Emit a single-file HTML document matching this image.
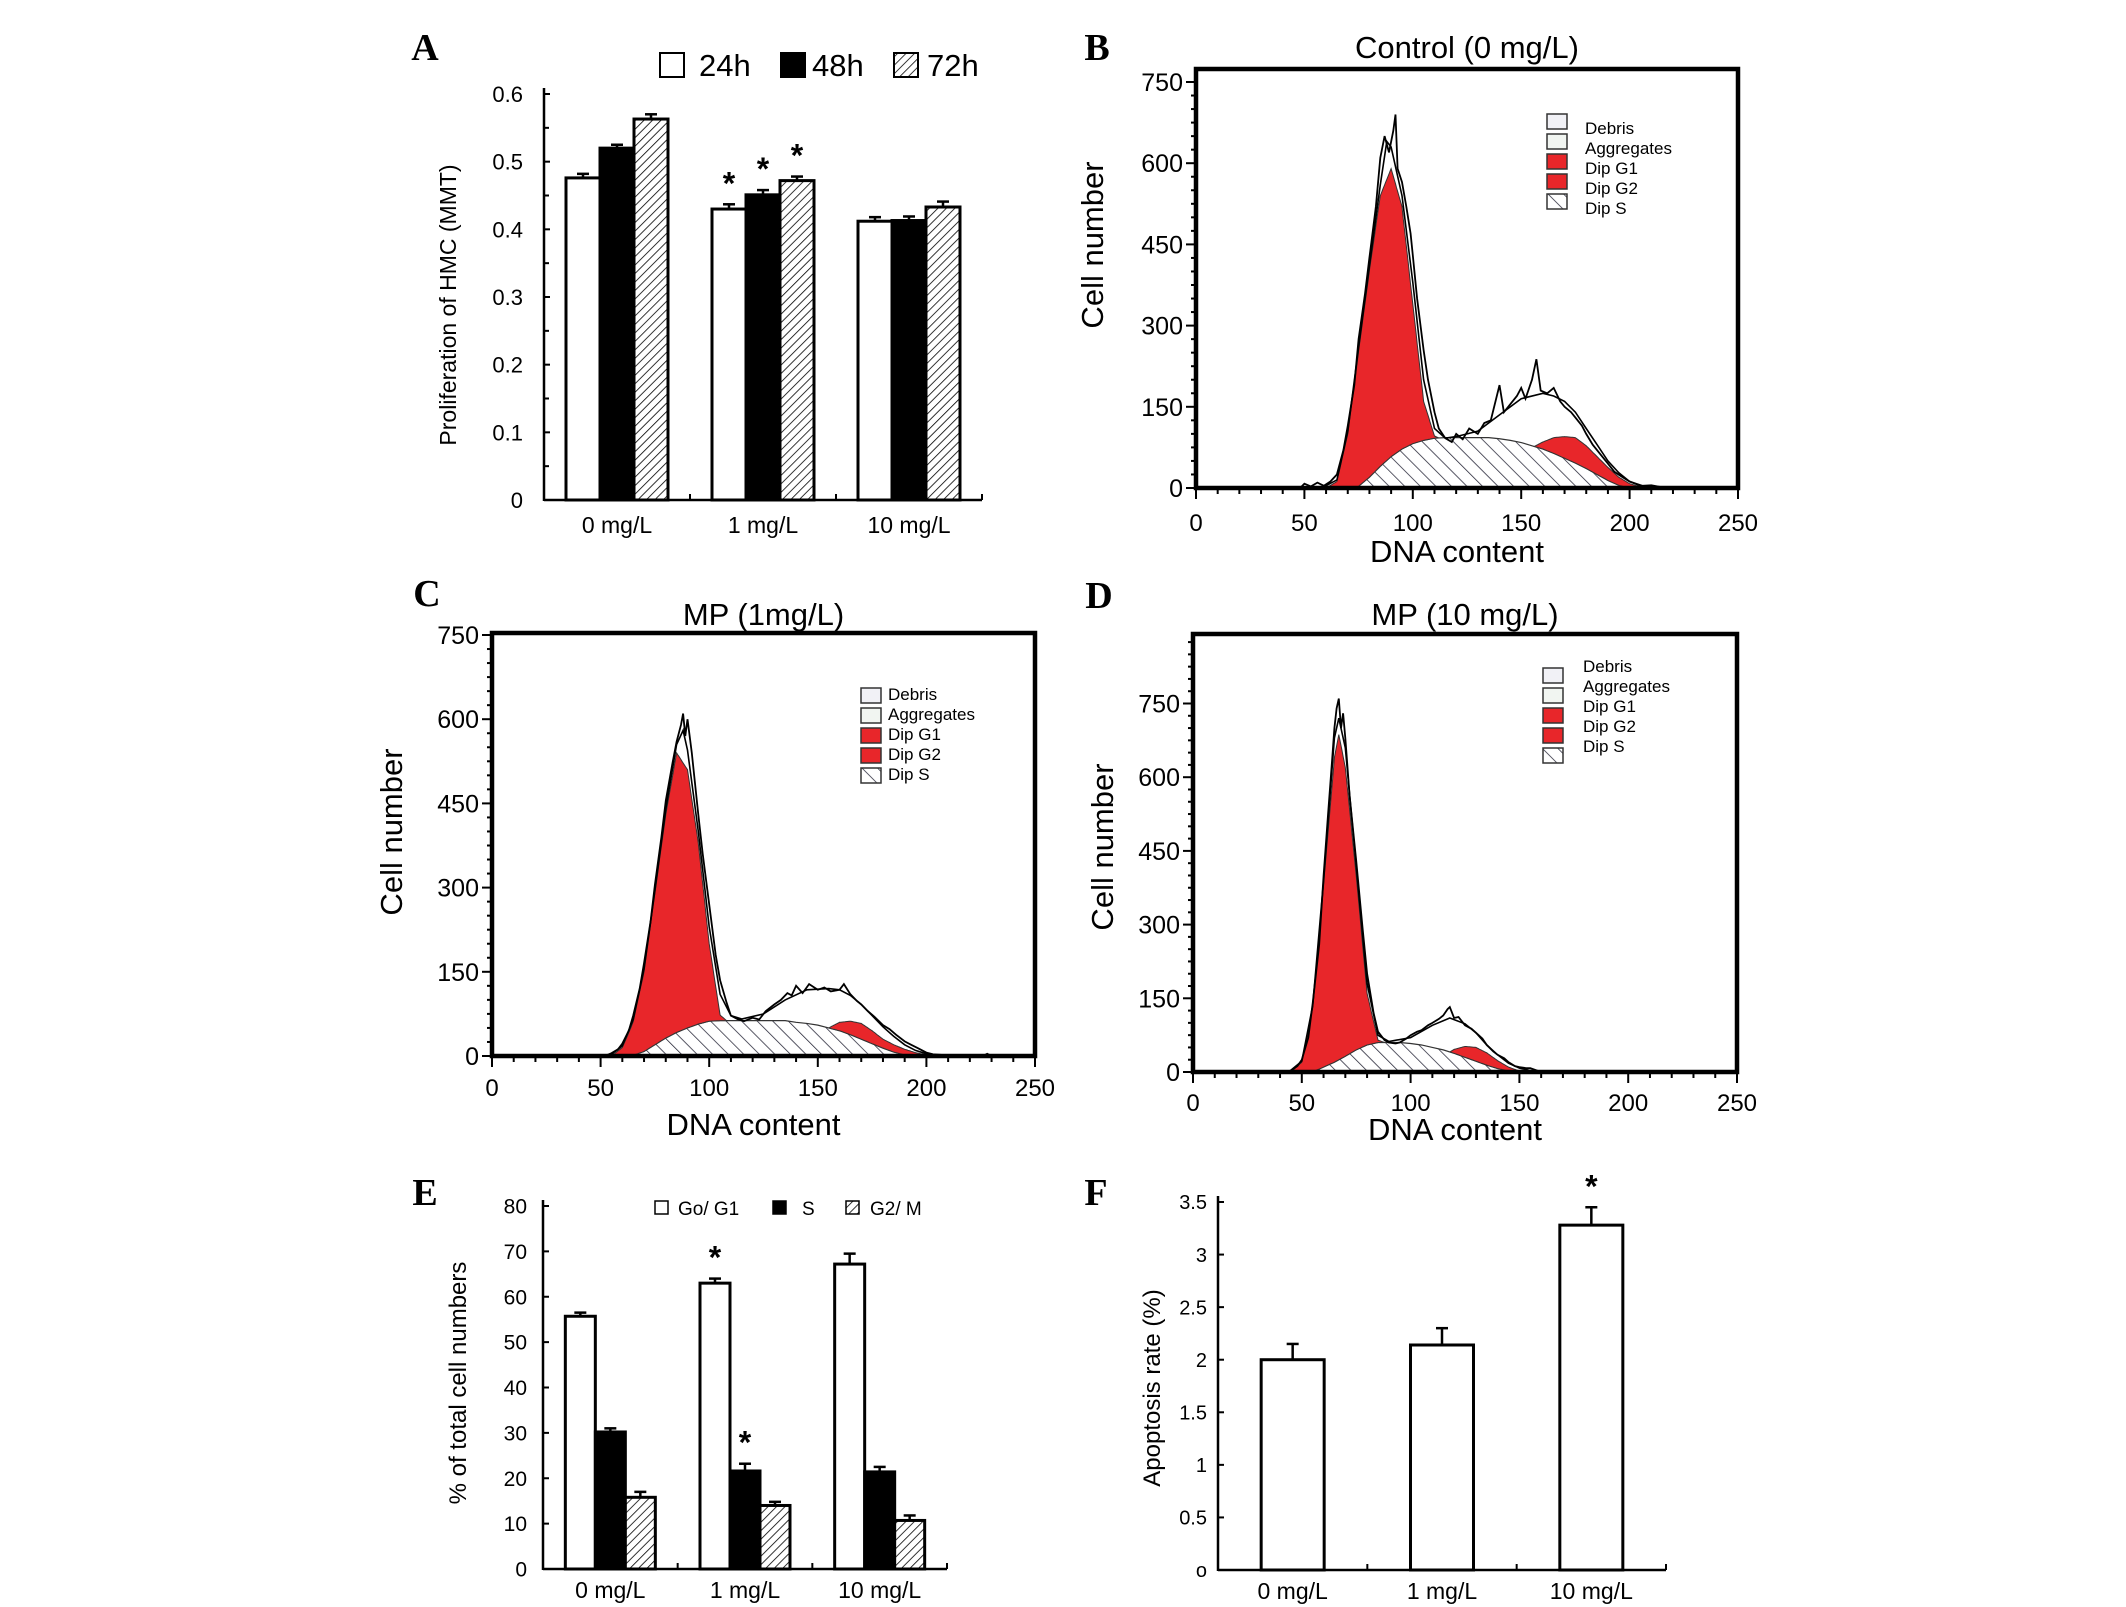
<!DOCTYPE html>
<html><head><meta charset="utf-8"><style>
html,body{margin:0;padding:0;background:#fff;}
svg{display:block;font-family:"Liberation Sans",sans-serif;}
</style></head><body>
<svg id="fig" xmlns="http://www.w3.org/2000/svg" width="2126" height="1607" viewBox="0 0 2126 1607">
<defs>
<pattern id="hatchA" patternUnits="userSpaceOnUse" width="6" height="6" patternTransform="rotate(45)">
<rect width="6" height="6" fill="#fff"/><line x1="0" y1="0" x2="0" y2="6" stroke="#000" stroke-width="1.6"/></pattern>
<pattern id="hatchS" patternUnits="userSpaceOnUse" width="11" height="11" patternTransform="rotate(-45)">
<rect width="11" height="11" fill="#fff"/><line x1="0" y1="0" x2="0" y2="11" stroke="#223" stroke-width="1.5"/></pattern>
</defs>
</svg>
<script>
// ---- Panel A data ----
const aCats = ['0 mg/L','1 mg/L','10 mg/L'];
const a24 = [0.476,0.430,0.412];
const a48 = [0.520,0.451,0.413];
const a72 = [0.563,0.472,0.433];
const aErr24 = [0.006,0.007,0.006];
const aErr48 = [0.005,0.007,0.006];
const aErr72 = [0.007,0.006,0.008];
const aTicks = [0,0.1,0.2,0.3,0.4,0.5,0.6];
const aTickLabels = ['0','0.1','0.2','0.3','0.4','0.5','0.6'];
const aStarGroups = [1];
// ---- Panel E data ----
const eCats = ['0 mg/L','1 mg/L','10 mg/L'];
const eG1 = [55.7,63.0,67.2];
const eS = [30.2,21.6,21.4];
const eG2 = [15.8,14.0,10.7];
const eErrG1 = [0.8,1.0,2.3];
const eErrS = [0.8,1.6,1.1];
const eErrG2 = [1.2,0.8,1.1];
const eTicks = [0,10,20,30,40,50,60,70,80];
// ---- Panel F data ----
const fCats = ['0 mg/L','1 mg/L','10 mg/L'];
const fVals = [2.0,2.14,3.28];
const fErr = [0.15,0.16,0.17];
const fTicks = [0,0.5,1,1.5,2,2.5,3,3.5];
const fTickLabels = ['o','0.5','1','1.5','2','2.5','3','3.5'];
// ---- Histogram data: [DNA content, cell number] ----
const histXTicks = [0,50,100,150,200,250];
const histYTicks = [0,150,300,450,600,750];
const bS = [[74,0],[80,20],[85,40],[90,58],[95,72],[100,82],[105,88],[110,92],[115,93],[135,93],[140,91],[145,88],[150,84],[155,78],[160,72],[165,64],[170,55],[175,46],[180,36],[185,25],[190,14],[195,5],[200,0]];
const bG1 = [[60,0],[65,12],[70,100],[75,250],[80,382],[85,500],[90,532],[95,448],[100,258],[105,72],[110,4],[112,0]];
const bG2 = [[156,0],[160,13],[165,29],[170,40],[175,47],[180,42],[185,33],[190,24],[195,15],[200,8],[205,2],[207,0]];
const bFit = [[58,0],[65,15],[70,105],[75,260],[80,410],[85,560],[88,640],[90,630],[95,540],[100,380],[105,200],[110,110],[115,92],[120,95],[130,105],[140,135],[150,165],[160,175],[165,170],[170,160],[175,140],[180,110],[185,80],[190,50],[195,28],[200,12],[205,4],[212,0]];
const bRaw = [[48,0],[50,8],[53,3],[56,10],[59,4],[62,12],[65,25],[68,70],[70,115],[73,190],[75,275],[78,360],[80,425],[83,520],[85,610],[87,650],[89,620],[91,660],[92,690],[93,590],[95,565],[97,520],[99,470],[100,430],[102,350],[105,255],[107,200],[110,140],[112,110],[115,92],[118,85],[120,100],[123,90],[126,110],[130,100],[133,120],[136,125],[140,190],[142,140],[145,155],[148,170],[150,185],[152,165],[155,200],[157,238],[159,180],[162,175],[165,185],[168,160],[170,150],[173,140],[175,130],[178,115],[180,100],[183,80],[186,65],[190,45],[193,30],[196,22],[200,12],[203,8],[206,4],[210,5],[214,2],[220,1],[248,0]];
const cS = [[64,0],[70,8],[75,20],[80,32],[85,42],[90,50],[95,57],[100,62],[105,63],[135,63],[140,60],[145,58],[150,55],[155,50],[160,45],[165,38],[170,30],[175,22],[180,14],[185,7],[190,2],[195,0]];
const cG1 = [[55,0],[60,15],[65,60],[70,142],[75,270],[80,398],[85,498],[90,460],[95,322],[100,138],[105,10],[108,0]];
const cG2 = [[155,0],[160,15],[165,24],[170,28],[175,23],[180,16],[185,13],[190,10],[195,6],[200,2],[203,0]];
const cFit = [[54,0],[60,18],[65,65],[70,155],[75,295],[80,440],[85,555],[88,580],[90,545],[95,400],[100,230],[105,110],[110,72],[115,66],[125,75],[135,100],[145,118],[155,120],[160,118],[165,108],[170,92],[175,72],[180,52],[185,35],[190,20],[195,10],[200,4],[206,0]];
const cRaw = [[52,0],[55,5],[58,12],[60,22],[63,45],[65,72],[68,120],[70,165],[73,240],[75,305],[78,390],[80,455],[83,520],[85,560],[87,590],[88,610],[89,570],[90,600],[92,540],[95,430],[97,360],[100,270],[103,180],[105,135],[108,95],[110,72],[113,66],[116,62],[120,68],[123,65],[126,80],[130,92],[133,100],[136,112],[138,108],[140,125],[143,112],[146,128],[150,118],[153,122],[156,115],[160,118],[162,128],[165,110],[168,98],[170,92],[173,80],[176,70],[180,55],[183,48],[186,38],[190,26],[193,20],[196,14],[200,6],[203,3],[207,2],[212,0],[226,0],[228,4],[230,0],[248,0]];
const dS = [[55,0],[60,10],[65,20],[70,32],[75,45],[80,55],[85,60],[95,60],[100,58],[105,55],[110,50],[115,45],[120,38],[125,30],[130,22],[135,14],[140,7],[145,2],[150,0]];
const dG1 = [[45,0],[50,20],[55,130],[60,370],[65,620],[67,662],[70,588],[75,355],[80,105],[85,5],[88,0]];
const dG2 = [[118,0],[120,8],[125,22],[130,28],[135,25],[140,16],[145,8],[150,2],[152,0]];
const dFit = [[44,0],[50,22],[55,135],[60,390],[65,680],[67,720],[70,660],[75,420],[80,180],[85,75],[90,62],[100,70],[110,95],[118,110],[125,98],[130,80],[135,55],[140,35],[145,18],[150,8],[155,3],[160,0]];
const dRaw = [[43,0],[45,3],[48,12],[50,25],[53,70],[55,140],[58,260],[60,400],[62,520],[64,640],[65,700],[66,740],[67,760],[68,700],[69,730],[70,680],[72,560],[75,430],[78,290],[80,200],[83,120],[85,82],[88,65],[90,60],[93,58],[95,60],[98,68],[100,75],[103,82],[105,85],[108,95],[110,100],[113,108],[115,115],[117,128],[118,132],[120,110],[122,112],[125,95],[128,88],[130,80],[133,68],[135,55],[138,42],[140,35],[143,28],[145,20],[148,12],[150,10],[153,8],[155,8],[158,3],[160,0],[248,0]];

const NS = 'http://www.w3.org/2000/svg';
const svg = document.getElementById('fig');
function mk(tag, attrs, parent){
  const el = document.createElementNS(NS, tag);
  for (const k in attrs) el.setAttribute(k, attrs[k]);
  (parent || svg).appendChild(el);
  return el;
}
function txt(x, y, s, size, anchor, name, extra){
  const el = mk('text', Object.assign({x:x, y:y, 'font-size':size, 'text-anchor':anchor||'middle', fill:'#000'}, extra||{}));
  el.textContent = s;
  
  
  return el;
}
function line(x1,y1,x2,y2,w,name){
  const el = mk('line',{x1:x1,y1:y1,x2:x2,y2:y2,stroke:'#000','stroke-width':w});
  
  
  return el;
}
function panelLetter(x,y,s){
  const el = txt(x,y,s,38,'middle','panel-label-'+s.toLowerCase(),{'font-family':'"Liberation Serif",serif','font-weight':'bold'});
  return el;
}
function star(x,y,name){
  return txt(x,y,'*',32,'middle',name,{'font-weight':'bold'});
}

// ---- generic bar chart ----
function barChart(c){
  const Y = v => c.y0 - (v - 0) / c.vmax * (c.y0 - c.yTop);
  const gw = (c.x1 - c.x0) / c.cats.length;
  // axes
  line(c.x0, c.yTop - 6, c.x0, c.y0 + 1, 2.5, c.id + '-y-axis');
  line(c.x0, c.y0, c.x1, c.y0, 2.5, c.id + '-x-axis');
  c.ticks.forEach((t, i) => {
    line(c.x0, Y(t), c.x0 + 6, Y(t), 2, c.id + '-y-tick');
    if (c.minor && i < c.ticks.length - 1) line(c.x0, Y((t + c.ticks[i+1]) / 2), c.x0 + 5, Y((t + c.ticks[i+1]) / 2), 2, c.id + '-y-minor-tick');
    txt(c.labRight, Y(t) + c.tickSize * 0.36, c.tickLabels[i], c.tickSize, 'end', c.id + '-y-tick-label');
  });
  for (let g = 1; g <= c.cats.length; g++) line(c.x0 + g * gw, c.y0, c.x0 + g * gw, c.y0 - 6, 2, c.id + '-x-tick');
  c.cats.forEach((cat, g) => {
    const gx = c.x0 + gw * (g + 0.5);
    txt(gx + (c.labShift||0), c.labY, cat, c.labSize, 'middle', c.id + '-x-label');
    const n = c.series.length;
    c.series.forEach((s, k) => {
      const bx = gx - n * c.barW / 2 + k * c.barW;
      const v = s.vals[g], e = s.errs[g];
      const cx = bx + c.barW / 2;
      line(cx, Y(v), cx, Y(v + e), 2.5, c.id + '-error-bar');
      line(cx - 6, Y(v + e), cx + 6, Y(v + e), 2.5, c.id + '-error-cap');
      const r = mk('rect', {x: bx, y: Y(v), width: c.barW, height: c.y0 - Y(v), fill: s.fill, stroke: '#000', 'stroke-width': 3});
      
      
      if (c.stars && c.stars[k] && c.stars[k].includes(g)) star(cx, Y(v + e) - 10, c.id + '-significance-star');
    });
  });
}

// ================= Panel A =================
panelLetter(425, 60, 'A');
barChart({id:'a', cats:aCats, x0:544, x1:982, y0:500, yTop:94, vmax:0.6, ticks:aTicks, tickLabels:aTickLabels, minor:true,
  labRight:523, tickSize:22, labY:533, labSize:23, barW:34,
  series:[{key:'24h',vals:a24,errs:aErr24,fill:'#fff'},{key:'48h',vals:a48,errs:aErr48,fill:'#000'},{key:'72h',vals:a72,errs:aErr72,fill:'url(#hatchA)'}],
  stars:[aStarGroups,aStarGroups,aStarGroups]});
txt(456, 305, 'Proliferation of HMC (MMT)', 23, 'middle', 'a-y-axis-title', {transform:'rotate(-90 456 305)'});
[['24h','#fff',660,699],['48h','#000',781,812],['72h','url(#hatchA)',894,927]].forEach(l => {
  const r = mk('rect',{x:l[2],y:53,width:24,height:24,fill:l[1],stroke:'#000','stroke-width':2});
  
  
  txt(l[3], 76, l[0], 31, 'start', 'a-legend-entry-'+l[0]);
});

// ================= Panel E =================
panelLetter(425, 1205, 'E');
barChart({id:'e', cats:eCats, x0:543, x1:947, y0:1569, yTop:1206, vmax:80, ticks:eTicks, tickLabels:eTicks.map(String), minor:false,
  labRight:527, tickSize:21, labY:1598, labSize:23, barW:30,
  series:[{key:'g0g1',vals:eG1,errs:eErrG1,fill:'#fff'},{key:'s',vals:eS,errs:eErrS,fill:'#000'},{key:'g2m',vals:eG2,errs:eErrG2,fill:'url(#hatchA)'}],
  stars:[[1],[1],[]]});
txt(466, 1383, '% of total cell numbers', 24, 'middle', 'e-y-axis-title', {transform:'rotate(-90 466 1383)'});
[['Go/ G1','#fff',655,678],['S','#000',773,802],['G2/ M','url(#hatchA)',846,870]].forEach(l => {
  const r = mk('rect',{x:l[2],y:1201,width:13,height:13,fill:l[1],stroke:'#000','stroke-width':1.5});
  
  
  txt(l[3], 1215, l[0], 19, 'start', 'e-legend-entry');
});

// ================= Panel F =================
panelLetter(1096, 1205, 'F');
barChart({id:'f', cats:fCats, x0:1218, x1:1666, y0:1570, yTop:1202, vmax:3.5, ticks:fTicks, tickLabels:fTickLabels, minor:false,
  labRight:1207, tickSize:20, labY:1599, labSize:23, barW:63,
  series:[{key:'apoptosis',vals:fVals,errs:fErr,fill:'#fff'}], stars:[[2]]});
txt(1160, 1388, 'Apoptosis rate (%)', 24, 'middle', 'f-y-axis-title', {transform:'rotate(-90 1160 1388)'});

// ================= Histograms =================
function interp(pairs, x){
  if (x <= pairs[0][0] || x >= pairs[pairs.length-1][0]) return 0;
  for (let i = 1; i < pairs.length; i++){
    if (x <= pairs[i][0]){
      const a = pairs[i-1], b = pairs[i];
      return a[1] + (b[1]-a[1]) * (x-a[0]) / (b[0]-a[0]);
    }
  }
  return 0;
}
function hist(p){
  const X = v => p.L + v / 250 * (p.R - p.L);
  const Y = v => p.y0 - v * (p.y0 - p.y750) / 750;
  const bot = p.B;
  // S phase area
  let d = 'M' + X(p.S[0][0]) + ',' + Y(0);
  p.S.forEach(q => d += 'L' + X(q[0]) + ',' + Y(q[1]));
  d += 'Z';
  let el = mk('path',{d:d, fill:'url(#hatchS)', stroke:'#333', 'stroke-width':1.2});
  
  
  // G1 / G2 areas stacked on S
  [['g1',p.G1],['g2',p.G2]].forEach(pr => {
    const arr = pr[1];
    const xa = arr[0][0], xb = arr[arr.length-1][0];
    let up = '', lo = [];
    for (let x = xa; x <= xb; x += 0.5){
      const s = interp(p.S, x);
      up += (up ? 'L' : 'M') + X(x).toFixed(1) + ',' + Y(s + interp(arr, x)).toFixed(1);
      lo.push(X(x).toFixed(1) + ',' + Y(s).toFixed(1));
    }
    const path = up + 'L' + lo.reverse().join('L') + 'Z';
    const r = mk('path',{d:path, fill:'#e8262a', stroke:'#333', 'stroke-width':1});
    
    
  });
  // fit outline & raw histogram
  [['fit',p.Fit,1.6],['raw',p.Raw,1.8]].forEach(pr => {
    let pts = pr[1].map(q => X(q[0]).toFixed(1) + ',' + Y(q[1]).toFixed(1));
    const pl = mk('polyline',{points:pts.join(' '), fill:'none', stroke:'#000', 'stroke-width':pr[2], 'stroke-linejoin':'miter'});
    
    
  });
  // box
  el = mk('rect',{x:p.L, y:p.T, width:p.R-p.L, height:p.B-p.T, fill:'none', stroke:'#000', 'stroke-width':4.5});
  
  
  // y ticks
  const yMaxUnits = (p.y0 - p.T) * 750 / (p.y0 - p.y750);
  for (let v = 0; v <= yMaxUnits; v += 25){
    const major = v % 150 === 0;
    line(p.L - (major ? 10 : 5), Y(v), p.L, Y(v), 2, p.id + (major ? '-y-tick' : '-y-minor-tick'));
  }
  histYTicks.forEach(v => txt(p.L - 13, Y(v) + 9, String(v), 25, 'end', p.id + '-y-tick-label'));
  for (let v = 0; v <= 250; v += 10) line(X(v), bot, X(v), bot + (v % 50 === 0 ? 11 : 6), 2, p.id + '-x-tick');
  histXTicks.forEach(v => txt(X(v), p.xlabY, String(v), 24, 'middle', p.id + '-x-tick-label'));
  txt((p.L + p.R) / 2, p.titleY, p.title, 31, 'middle', p.id + '-title');
  txt((p.L + p.R) / 2 - 10, p.dnaY, 'DNA content', 31, 'middle', p.id + '-x-axis-title');
  txt(p.cellX, p.cellY, 'Cell number', 31, 'middle', p.id + '-y-axis-title', {transform:'rotate(-90 ' + p.cellX + ' ' + p.cellY + ')'});
  // legend
  const leg = [['Debris','#f1f1f6'],['Aggregates','#f1f5f1'],['Dip G1','#e8262a'],['Dip G2','#e8262a'],['Dip S','url(#hatchS)']];
  leg.forEach((l, i) => {
    const r = mk('rect',{x:p.legX, y:p.legBoxY + i * 20, width:20, height:15, fill:l[1], stroke:'#333', 'stroke-width':1.5});
    
    
    txt(p.legTextX, p.legTextY + i * 20, l[0], 17, 'start', p.id + '-legend-entry');
  });
}

panelLetter(1097, 60, 'B');
hist({id:'b', L:1196, T:69, R:1738, B:488, y0:488, y750:82, S:bS, G1:bG1, G2:bG2, Fit:bFit, Raw:bRaw,
  title:'Control (0 mg/L)', titleY:58, dnaY:562, xlabY:531, cellX:1103, cellY:245,
  legX:1547, legBoxY:114, legTextX:1585, legTextY:134});

panelLetter(427, 606, 'C');
hist({id:'c', L:492, T:633, R:1035, B:1056, y0:1056, y750:635, S:cS, G1:cG1, G2:cG2, Fit:cFit, Raw:cRaw,
  title:'MP (1mg/L)', titleY:625, dnaY:1135, xlabY:1096, cellX:402, cellY:832,
  legX:861, legBoxY:688, legTextX:888, legTextY:700});

panelLetter(1099, 608, 'D');
hist({id:'d', L:1193, T:634, R:1737, B:1072, y0:1072, y750:703.5, S:dS, G1:dG1, G2:dG2, Fit:dFit, Raw:dRaw,
  title:'MP (10 mg/L)', titleY:625, dnaY:1140, xlabY:1111, cellX:1113, cellY:847,
  legX:1543, legBoxY:668, legTextX:1583, legTextY:672});
</script>
</body></html>
